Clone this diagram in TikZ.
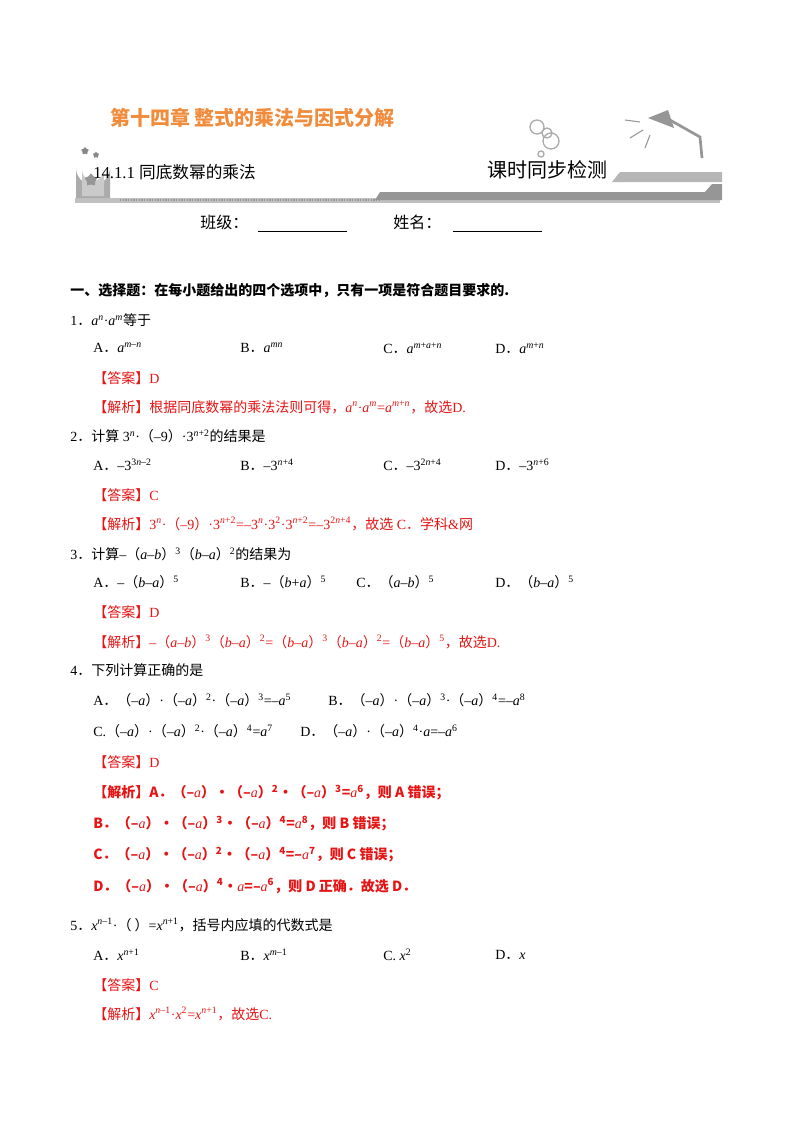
\documentclass[tikz,border=0pt]{standalone}
\usepackage{fontspec}
\setmainfont{Liberation Serif}
\newfontfamily\zhf{Noto Sans CJK SC}
\newcommand{\zh}[1]{{\zhf #1}}
\newcommand{\su}[1]{\textsuperscript{#1}}
\newcommand{\iv}[1]{{\rmfamily\mdseries\itshape #1}}
\newcommand{\dd}{\zh{．}}
\usetikzlibrary{shapes.geometric}
\definecolor{ans}{RGB}{230,20,20}
\definecolor{ttl}{RGB}{240,140,60}
\definecolor{band}{RGB}{150,150,150}
\tikzset{t/.style={anchor=west,inner sep=0pt,font=\fontsize{10.5}{12}\selectfont},
 r/.style={t,text=ans}}
\begin{document}
\begin{tikzpicture}[x=0.75pt,y=-0.75pt]
\useasboundingbox (0,0) rectangle (800,1132);
\fill[white] (0,0) rectangle (800,1132);
% header graphics
\fill[band!60] (75,198) rectangle (720,203);
\draw[band,line width=1.2pt,dash pattern=on 1pt off 1pt] (120,200) -- (380,200);
\fill[band] (380,192) -- (705,192) -- (712,184) -- (722,184) -- (722,200) -- (375,200) -- cycle;
\fill[band!70] (620,172) -- (722,172) -- (722,182) -- (612,182) -- cycle;
\fill[band!80] (76,198) -- (76,168) arc[start angle=180,end angle=0,radius=17] -- (110,198) -- cycle;
\fill[band!50] (82,196) -- (82,170) arc[start angle=180,end angle=0,radius=11] -- (104,196) -- cycle;
\node (st1) at (91,180) [star,star points=5,fill=band,inner sep=0pt,minimum size=10pt] {};
\node (st2) at (85,151) [star,star points=5,fill=band!90!black,inner sep=0pt,minimum size=6pt] {};
\node (st3) at (96,155) [star,star points=5,fill=band!90!black,inner sep=0pt,minimum size=5pt] {};
\draw[band!80,line width=1pt] (537,127) circle (7) (547,133) circle (5) (551,141) circle (8) (541,154) circle (3);
\draw[band,line width=2pt] (702,158) -- (700,137) -- (670,120);
\fill[band] (648,118) -- (668,110) -- (674,128) -- cycle;
\draw[band,line width=0.8pt] (640,122)--(625,120) (643,130)--(630,138) (650,135)--(645,148);
\node[t,font=\fontsize{15}{15}\zhf\bfseries,text=ttl] (title) at (110,118) {第十四章\ 整式的乘法与因式分解};
\node[t,font=\fontsize{12.5}{14}\selectfont] (sec) at (93,172) {14.1.1\ \zh{同底数幂的乘法}};
\node[t,font=\fontsize{15}{16}\zhf] (kssb) at (487,170) {课时同步检测};
\node[t,font=\fontsize{12}{14}\zhf] (bj) at (200,222) {班级：};
\node[t,font=\fontsize{12}{14}\zhf] (xm) at (393,222) {姓名：};
\draw (258,231) -- (347,231) (453,231) -- (542,231);
% questions
\node[t,font=\fontsize{10.5}{12}\zhf\bfseries] (h1) at (70,291) {一、选择题：在每小题给出的四个选项中，只有一项是符合题目要求的.};
\node[t] (q1) at (70,320) {1\dd\iv{a}\su{\iv{n}}·\iv{a}\su{\iv{m}}\zh{等于}};
\node[t] (q1a) at (93,348) {A\dd\iv{a}\su{\iv{m}–\iv{n}}};
\node[t] (q1b) at (240,348) {B\dd\iv{a}\su{\iv{mn}}};
\node[t] (q1c) at (383,348) {C\dd\iv{a}\su{\iv{m}+\iv{a}+\iv{n}}};
\node[t] (q1d) at (495,348) {D\dd\iv{a}\su{\iv{m}+\iv{n}}};
\node[r] (a1) at (93,378) {\zh{【答案】}D};
\node[r] (j1) at (93,407) {\zh{【解析】根据同底数幂的乘法法则可得，}\iv{a}\su{\iv{n}}·\iv{a}\su{\iv{m}}=\iv{a}\su{\iv{m}+\iv{n}}\zh{，故选}D.};
\node[t] (q2) at (70,436) {2\dd\zh{计算} 3\su{\iv{n}}·\zh{（}–9\zh{）}·3\su{\iv{n}+2}\zh{的结果是}};
\node[t] (q2a) at (93,465) {A\dd–3\su{3\iv{n}–2}};
\node[t] (q2b) at (240,465) {B\dd–3\su{\iv{n}+4}};
\node[t] (q2c) at (383,465) {C\dd–3\su{2\iv{n}+4}};
\node[t] (q2d) at (495,465) {D\dd–3\su{\iv{n}+6}};
\node[r] (a2) at (93,495) {\zh{【答案】}C};
\node[r] (j2) at (93,524) {\zh{【解析】}3\su{\iv{n}}·\zh{（}–9\zh{）}·3\su{\iv{n}+2}=–3\su{\iv{n}}·3\su{2}·3\su{\iv{n}+2}=–3\su{2\iv{n}+4}\zh{，故选} C\zh{．学科}\&\zh{网}};
\node[t] (q3) at (70,554) {3\dd\zh{计算}–\zh{（}\iv{a}–\iv{b}\zh{）}\su{3}\zh{（}\iv{b}–\iv{a}\zh{）}\su{2}\zh{的结果为}};
\node[t] (q3a) at (93,582) {A\dd–\zh{（}\iv{b}–\iv{a}\zh{）}\su{5}};
\node[t] (q3b) at (240,582) {B\dd–\zh{（}\iv{b}+\iv{a}\zh{）}\su{5}};
\node[t] (q3c) at (356,582) {C\dd\zh{（}\iv{a}–\iv{b}\zh{）}\su{5}};
\node[t] (q3d) at (495,582) {D\dd\zh{（}\iv{b}–\iv{a}\zh{）}\su{5}};
\node[r] (a3) at (93,612) {\zh{【答案】}D};
\node[r] (j3) at (93,642) {\zh{【解析】}–\zh{（}\iv{a}–\iv{b}\zh{）}\su{3}\zh{（}\iv{b}–\iv{a}\zh{）}\su{2}=\zh{（}\iv{b}–\iv{a}\zh{）}\su{3}\zh{（}\iv{b}–\iv{a}\zh{）}\su{2}=\zh{（}\iv{b}–\iv{a}\zh{）}\su{5}\zh{，故选}D.};
\node[t] (q4) at (70,670) {4\dd\zh{下列计算正确的是}};
\node[t] (q4a) at (93,700) {A\dd\zh{（}–\iv{a}\zh{）}·\zh{（}–\iv{a}\zh{）}\su{2}·\zh{（}–\iv{a}\zh{）}\su{3}=–\iv{a}\su{5}};
\node[t] (q4b) at (328,700) {B\dd\zh{（}–\iv{a}\zh{）}·\zh{（}–\iv{a}\zh{）}\su{3}·\zh{（}–\iv{a}\zh{）}\su{4}=–\iv{a}\su{8}};
\node[t] (q4c) at (93,731) {C.\zh{（}–\iv{a}\zh{）}·\zh{（}–\iv{a}\zh{）}\su{2}·\zh{（}–\iv{a}\zh{）}\su{4}=\iv{a}\su{7}};
\node[t] (q4d) at (300,731) {D\dd\zh{（}–\iv{a}\zh{）}·\zh{（}–\iv{a}\zh{）}\su{4}·\iv{a}=–\iv{a}\su{6}};
\node[r] (a4) at (93,762) {\zh{【答案】}D};
\node[r,font=\fontsize{10.5}{12}\zhf\bfseries] (j4) at (93,793) {【解析】A．（–\iv{a}）·（–\iv{a}）\su{2}·（–\iv{a}）\su{3}=\iv{a}\su{6}，则 A 错误；};
\node[r,font=\fontsize{10.5}{12}\zhf\bfseries] (j4b) at (93,824) {B．（–\iv{a}）·（–\iv{a}）\su{3}·（–\iv{a}）\su{4}=\iv{a}\su{8}，则 B 错误；};
\node[r,font=\fontsize{10.5}{12}\zhf\bfseries] (j4c) at (93,855) {C．（–\iv{a}）·（–\iv{a}）\su{2}·（–\iv{a}）\su{4}=–\iv{a}\su{7}，则 C 错误；};
\node[r,font=\fontsize{10.5}{12}\zhf\bfseries] (j4d) at (93,886) {D．（–\iv{a}）·（–\iv{a}）\su{4}·\iv{a}=–\iv{a}\su{6}，则 D 正确．故选 D．};
\node[t] (q5) at (70,925) {5\dd\iv{x}\su{\iv{n}–1}·\zh{（ ）}=\iv{x}\su{\iv{n}+1}\zh{，括号内应填的代数式是}};
\node[t] (q5a) at (93,955) {A\dd\iv{x}\su{\iv{n}+1}};
\node[t] (q5b) at (240,955) {B\dd\iv{x}\su{\iv{m}–1}};
\node[t] (q5c) at (383,955) {C. \iv{x}\su{2}};
\node[t] (q5d) at (495,955) {D\dd\iv{x}};
\node[r] (a5) at (93,985) {\zh{【答案】}C};
\node[r] (j5) at (93,1014) {\zh{【解析】}\iv{x}\su{\iv{n}–1}·\iv{x}\su{2}=\iv{x}\su{\iv{n}+1}\zh{，故选}C.};
\end{tikzpicture}
\end{document}
